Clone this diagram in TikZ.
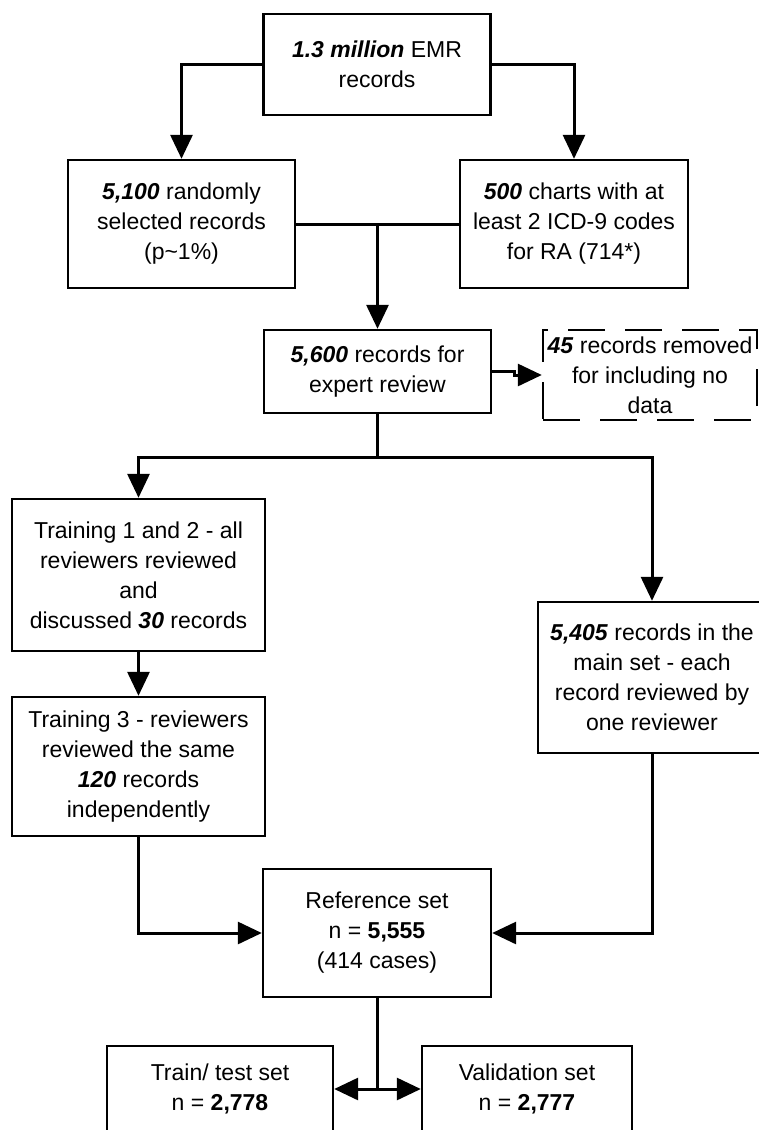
\documentclass[tikz,border=0pt]{standalone}
\usepackage{fontspec}
\setmainfont{Liberation Sans}
\usetikzlibrary{arrows.meta,positioning,calc}
\tikzset{
    fbox/.style={draw, line width=1.2pt, fill=white, inner sep=2pt,
                 minimum width=#1, align=center,
                 font=\fontsize{11.5}{15}\selectfont},
    fbox/.default=113.5pt,
    dbox/.style={fbox=#1, dash pattern=on 18.5pt off 10pt},
}
\newcommand{\bnum}[1]{\textbf{\textit{#1}}}

\begin{document}
\begin{tikzpicture}[
    x=0.5pt, y=-0.5pt,
    arr/.style={-{Triangle[length=12pt,width=11pt]}, line width=1.5pt},
    link/.style={line width=1.5pt}
]
    \clip (0,0) rectangle (759,1130);
    % sources
    \node[fbox, minimum height=50.5pt] (emr) at (377,64.5)
        {\bnum{1.3 million} EMR\\records};
    \node[fbox, minimum height=64pt] (rand) at (181.5,224)
        {\bnum{5,100} randomly\\selected records\\(p\textasciitilde1\%)};
    \node[fbox=114pt, minimum height=64pt] (ra) at (574,224)
        {\bnum{500} charts with at\\least 2 ICD-9 codes\\for RA (714*)};
    \node[fbox, minimum height=41.5pt] (expert) at (377.5,371.5)
        {\bnum{5,600} records for\\expert review};
    \node[dbox=107pt, minimum height=45pt] (removed) at (650,375)
        {\bnum{45} records removed\\for including no\\data};
    % review
    \node[fbox=126.5pt, minimum height=76pt] (train12) at (138.5,575)
        {Training 1 and 2 - all\\reviewers reviewed\\and\\discussed \bnum{30} records};
    \node[fbox=114pt, minimum height=75.5pt] (mainset) at (652,677.5)
        {\bnum{5,405} records in the\\main set - each\\record reviewed by\\one reviewer};
    \node[fbox=126.5pt, minimum height=69.5pt] (train3) at (138.5,766.5)
        {Training 3 - reviewers\\reviewed the same\\\bnum{120} records\\independently};
    \node[fbox=114pt, minimum height=64pt] (refset) at (377,933)
        {Reference set\\n = \textbf{5,555}\\(414 cases)};
    % split
    \node[fbox=113pt, minimum height=43pt] (traintest) at (220,1089)
        {Train/ test set\\n = \textbf{2,778}};
    \node[fbox=105pt, minimum height=43pt] (valid) at (527,1089)
        {Validation set\\n = \textbf{2,777}};

    \coordinate (join) at (expert.north |- rand.east);
    \coordinate (fork) at ($(expert.south)+(0,43)$);
    \coordinate (split) at (refset.south |- valid.west);

    \draw[arr] (emr.west) -| (rand.north);
    \draw[arr] (emr.east) -| (ra.north);
    \draw[link] (rand.east) -- (ra.west);
    \draw[arr] (join) -- (expert.north);
    \draw[arr] (expert.east) -- ++(22,0) |- (removed.west);
    \draw[link] (expert.south) -- (fork);
    \draw[arr] (fork) -| (train12.north);
    \draw[arr] (fork) -| (mainset.north);
    \draw[arr] (train12.south) -- (train3.north);
    \draw[arr] (train3.south) |- (refset.west);
    \draw[arr] (mainset.south) |- (refset.east);
    \draw[link] (refset.south) -- (split);
    \draw[arr] (split) -- (traintest.east);
    \draw[arr] (split) -- (valid.west);
\end{tikzpicture}
\end{document}
